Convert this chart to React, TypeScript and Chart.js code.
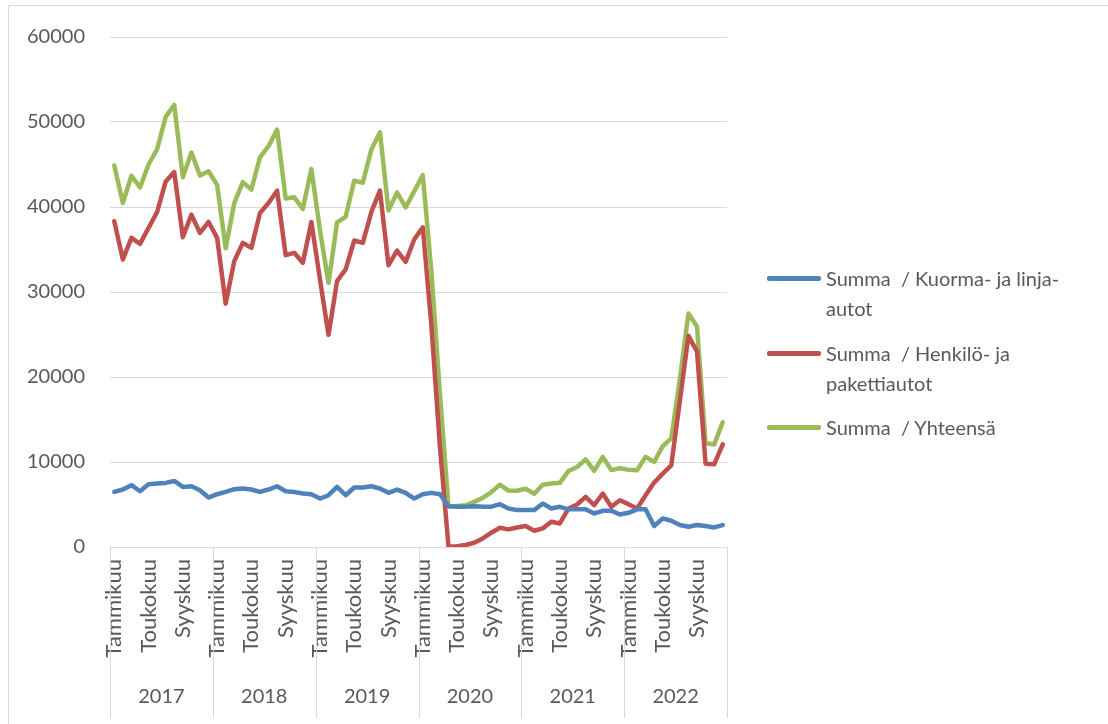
import React, { useEffect, useRef } from "react";
import { Chart, registerables } from "chart.js";

Chart.register(...registerables);

const YEARS = ["2017", "2018", "2019", "2020", "2021", "2022"];
const MONTHS = [
  "Tammikuu", "Helmikuu", "Maaliskuu", "Huhtikuu", "Toukokuu", "Kesäkuu",
  "Heinäkuu", "Elokuu", "Syyskuu", "Lokakuu", "Marraskuu", "Joulukuu",
];
const SHOWN_MONTHS = [0, 4, 8];

const SERIES_NAMES = [
  "Summa  / Kuorma- ja linja-\nautot",
  "Summa  / Henkilö- ja\npakettiautot",
  "Summa  / Yhteensä",
];
const SERIES_COLORS = ["#4F81BD", "#C0504D", "#9BBB59"];

const kuorma = [
  6480, 6760, 7270, 6560, 7380, 7460, 7540, 7770, 7070, 7150, 6680, 5820,
  6210, 6480, 6800, 6880, 6760, 6480, 6760, 7150, 6560, 6480, 6290, 6210,
  5700, 6090, 7070, 6090, 7000, 7000, 7150, 6880, 6370, 6760, 6370, 5700,
  6200, 6370, 6200, 4800, 4750, 4750, 4800, 4750, 4750, 5040, 4530, 4340,
  4340, 4340, 5120, 4530, 4730, 4430, 4430, 4430, 3940, 4260, 4260, 3820,
  4020, 4430, 4430, 2460, 3360, 3090, 2580, 2380, 2580, 2460, 2300, 2580,
];

const henkilo = [
  38320, 33830, 36370, 35660, 37540, 39410, 43010, 44100, 36450, 39100, 36950, 38240,
  36370, 28630, 33630, 35780, 35190, 39300, 40470, 41920, 34340, 34610, 33440, 38240,
  31500, 24960, 31290, 32660, 36060, 35780, 39410, 41920, 33160, 34880, 33550, 36170,
  37600, 26100, 11800, 50, 100, 230, 500, 1010, 1680, 2270, 2070, 2300,
  2460, 1910, 2190, 2970, 2770, 4530, 5000, 5900, 4920, 6290, 4730, 5510,
  5040, 4530, 6090, 7580, 8630, 9610, 17200, 24840, 23000, 9800, 9730, 12070,
];

const yhteensa = [
  44880, 40470, 43680, 42300, 45000, 46800, 50600, 52000, 43500, 46400, 43700, 44200,
  42600, 35150, 40450, 42930, 42050, 45850, 47150, 49100, 41000, 41150, 39780, 44480,
  37300, 31070, 38200, 38850, 43100, 42850, 46750, 48790, 39600, 41700, 39950, 41850,
  43750, 32500, 18000, 4800, 4830, 4900, 5310, 5780, 6450, 7340, 6640, 6620,
  6850, 6270, 7330, 7480, 7550, 8950, 9410, 10300, 8950, 10600, 9050, 9270,
  9080, 9030, 10600, 10020, 11850, 12780, 19800, 27460, 25940, 12240, 12050, 14680,
];

const Y_MAX = 60000;
const Y_STEP = 10000;

const FONT = "Lato";
const TEXT_COLOR = "#595959";
const GRID_COLOR = "#d9d9d9";

const labels: string[] = [];
YEARS.forEach((y) => MONTHS.forEach((m) => labels.push(m + " " + y)));

const groupPlugin = {
  id: "groupAxis",
  afterDraw(chart: any) {
    const ctx = chart.ctx;
    const area = chart.chartArea;
    const w = (area.right - area.left) / YEARS.length;
    ctx.save();
    ctx.strokeStyle = GRID_COLOR;
    ctx.lineWidth = 1;
    for (let k = 0; k <= YEARS.length; k++) {
      const x = Math.round(area.left + k * w) + 0.5;
      ctx.beginPath();
      ctx.moveTo(x, area.bottom);
      ctx.lineTo(x, 718);
      ctx.stroke();
    }
    ctx.fillStyle = TEXT_COLOR;
    ctx.font = `20px ${FONT}`;
    ctx.textAlign = "center";
    ctx.textBaseline = "middle";
    YEARS.forEach((y, k) => {
      ctx.fillText(y, area.left + (k + 0.5) * w, 697);
    });
    // outer chart border (left and top)
    ctx.beginPath();
    ctx.moveTo(8.5, 724);
    ctx.lineTo(8.5, 5.5);
    ctx.lineTo(1108, 5.5);
    ctx.stroke();
    ctx.restore();
  },
};

export default function App() {
  const canvasRef = useRef<HTMLCanvasElement | null>(null);

  useEffect(() => {
    if (!canvasRef.current) return;
    const data = [kuorma, henkilo, yhteensa];
    const chart = new Chart(canvasRef.current, {
      type: "line",
      data: {
        labels,
        datasets: data.map((d, i) => ({
          label: SERIES_NAMES[i],
          data: d,
          borderColor: SERIES_COLORS[i],
          backgroundColor: SERIES_COLORS[i],
          borderWidth: 4.5,
          pointRadius: 0,
          tension: 0,
          borderCapStyle: "round" as const,
          borderJoinStyle: "round" as const,
        })),
      },
      options: {
        animation: false,
        responsive: false,
        devicePixelRatio: 1,
        layout: { padding: { left: 0, top: 35, right: 381, bottom: 0 } },
        plugins: { legend: { display: false }, tooltip: { enabled: false } },
        scales: {
          x: {
            type: "category",
            offset: true,
            grid: { display: false, drawTicks: false },
            border: { display: false },
            ticks: {
              autoSkip: false,
              minRotation: 90,
              maxRotation: 90,
              padding: 12,
              color: TEXT_COLOR,
              font: { family: FONT, size: 22 },
              callback: (_v: any, i: number) =>
                SHOWN_MONTHS.includes(i % 12) ? MONTHS[i % 12] : "",
            },
            afterFit: (s: any) => {
              s.height = 177;
            },
          },
          y: {
            min: 0,
            max: Y_MAX,
            ticks: {
              stepSize: Y_STEP,
              padding: 25,
              color: TEXT_COLOR,
              font: { family: FONT, size: 20 },
              callback: (v: any) => String(v),
            },
            grid: { color: GRID_COLOR, lineWidth: 1, drawTicks: false },
            border: { display: false },
            afterFit: (s: any) => {
              s.width = 110;
            },
          },
        },
      },
      plugins: [groupPlugin],
    });
    return () => chart.destroy();
  }, []);

  const legendY = [278, 353, 427];

  return (
    <div style={{ position: "absolute", left: 0, top: 0, width: 1108, height: 724, background: "#fff" }}>
      <canvas ref={canvasRef} width={1108} height={724} style={{ display: "block" }} />
      {SERIES_NAMES.map((name, i) => (
        <React.Fragment key={i}>
          <div
            style={{
              position: "absolute",
              left: 767,
              top: legendY[i] - 2,
              width: 54,
              height: 4.5,
              borderRadius: 2,
              background: SERIES_COLORS[i],
            }}
          />
          <div
            style={{
              position: "absolute",
              left: 826,
              top: legendY[i] - 15,
              fontFamily: FONT,
              fontSize: 20,
              lineHeight: "30px",
              color: TEXT_COLOR,
              whiteSpace: "pre",
            }}
          >
            {name}
          </div>
        </React.Fragment>
      ))}
    </div>
  );
}
